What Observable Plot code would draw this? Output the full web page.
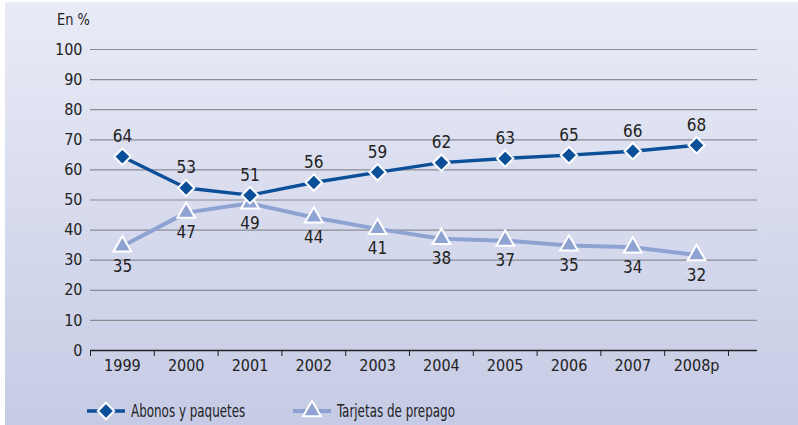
<!DOCTYPE html>
<html>
<head>
<meta charset="utf-8">
<script src="https://cdn.jsdelivr.net/npm/d3@7"></script>
<script src="https://cdn.jsdelivr.net/npm/@observablehq/plot@0.6"></script>
<style>
  html, body { margin: 0; padding: 0; background: #ffffff; }
  #wrap {
    position: absolute; left: 5px; top: 2px; width: 793px; height: 423px;
    background: linear-gradient(to bottom, #e9ebf6 0%, #c6cbe5 100%);
    font-family: "Liberation Sans Narrow", "DejaVu Sans Condensed", "Liberation Sans", sans-serif;
    color: #222;
  }
  #chart { position: absolute; left: -5px; top: -2px; }
  #unit { position: absolute; left: 52px; top: 8px; font-size: 16px; display: inline-block; transform: scaleX(0.9); transform-origin: left center; }
  #legend { position: absolute; left: 0; top: 397px; width: 793px; height: 24px; font-size: 17px; }
  .item { position: absolute; top: 0; display: flex; align-items: center; white-space: nowrap; }
  .item svg { margin-right: 6px; }
  .item span { display: inline-block; transform: scaleX(0.78); transform-origin: left center; }
</style>
</head>
<body>
<div id="wrap">
  <div id="unit">En %</div>
  <div id="chart"></div>
  <div id="legend"></div>
</div>
<script>
const years = ["1999","2000","2001","2002","2003","2004","2005","2006","2007","2008p"];
const abonos = [64, 53, 51, 56, 59, 62, 63, 65, 66, 68];
const tarjetas = [35, 47, 49, 44, 41, 38, 37, 35, 34, 32];
const seriesNames = ["Abonos y paquetes", "Tarjetas de prepago"];
const yTicks = [0, 10, 20, 30, 40, 50, 60, 70, 80, 90, 100];
const colors = ["#0b4f98", "#8fa3d3"];

// plotted positions (markers sit slightly off the rounded labels in the original)
const abonosPos = [64.4, 54, 51.6, 55.8, 59.2, 62.4, 63.8, 64.9, 66.2, 68.2];
const tarjetasPos = [34.6, 45.8, 48.9, 44.2, 40.4, 37.1, 36.5, 34.9, 34.3, 31.7];

const A = years.map((y, i) => ({i: i + 0.5, year: y, v: abonosPos[i], label: abonos[i]}));
const T = years.map((y, i) => ({i: i + 0.5, year: y, v: tarjetasPos[i], label: tarjetas[i]}));
const bounds = d3.range(0, years.length + 1);
const centers = years.map((y, i) => i + 0.5);

const font = getComputedStyle(document.getElementById("wrap")).fontFamily;

const chart = Plot.plot({
  width: 798,
  height: 380,
  marginTop: 49,
  marginBottom: 30,
  marginLeft: 90,
  marginRight: 41,
  style: {background: "transparent", fontFamily: font, fontSize: "16px", color: "#222", overflow: "visible"},
  x: {type: "linear", domain: [0, 10.455], axis: null},
  y: {domain: [0, 100], axis: null},
  marks: [
    Plot.ruleY(yTicks.filter(d => d > 0), {stroke: "#8a8d96", strokeWidth: 1.2, strokeOpacity: 1}),
    Plot.axisY({ticks: yTicks, tickSize: 0, tickPadding: 8, fontSize: 16, fill: "#222", label: null}),
    Plot.ruleY([0], {stroke: "#222", strokeWidth: 1.3}),
    Plot.axisX({ticks: bounds, tickSize: 6, tickFormat: () => "", stroke: "#222", label: null}),
    Plot.axisX({ticks: centers, tickSize: 0, tickPadding: 9, tickFormat: d => years[Math.floor(d)], fontSize: 16, fill: "#222", label: null}),
    Plot.line(T, {x: "i", y: "v", stroke: colors[1], strokeWidth: 4}),
    Plot.line(A, {x: "i", y: "v", stroke: colors[0], strokeWidth: 3.4}),
    Plot.dot(T, {x: "i", y: "v", symbol: "triangle", r: 6.6, fill: colors[1], stroke: "white", strokeWidth: 2}),
    Plot.dot(A, {x: "i", y: "v", symbol: "diamond2", r: 7.4, fill: colors[0], stroke: "white", strokeWidth: 2}),
    Plot.text(A, {x: "i", y: "v", text: "label", dy: -20, fontSize: 17, fill: "#222"}),
    Plot.text(T, {x: "i", y: "v", text: "label", dy: 20, fontSize: 17, fill: "#222"})
  ]
});
document.getElementById("chart").appendChild(chart);

// legend
const legend = document.getElementById("legend");
const lefts = [82, 288];
const symbols = [d3.symbolDiamond2, d3.symbolTriangle];
const sizes = [Math.PI * 7.4 * 7.4, Math.PI * 6.6 * 6.6];
seriesNames.forEach((name, k) => {
  const item = document.createElement("div");
  item.className = "item";
  item.style.left = lefts[k] + "px";
  const s = d3.create("svg").attr("width", 38).attr("height", 24);
  s.append("line").attr("x1", 0).attr("x2", 38).attr("y1", 12).attr("y2", 12)
    .attr("stroke", colors[k]).attr("stroke-width", k === 0 ? 3.4 : 4);
  s.append("path").attr("d", d3.symbol(symbols[k], sizes[k])())
    .attr("transform", "translate(19,12)").attr("fill", colors[k])
    .attr("stroke", "white").attr("stroke-width", 2);
  item.appendChild(s.node());
  const t = document.createElement("span");
  t.textContent = name;
  item.appendChild(t);
  legend.appendChild(item);
});
</script>
</body>
</html>
